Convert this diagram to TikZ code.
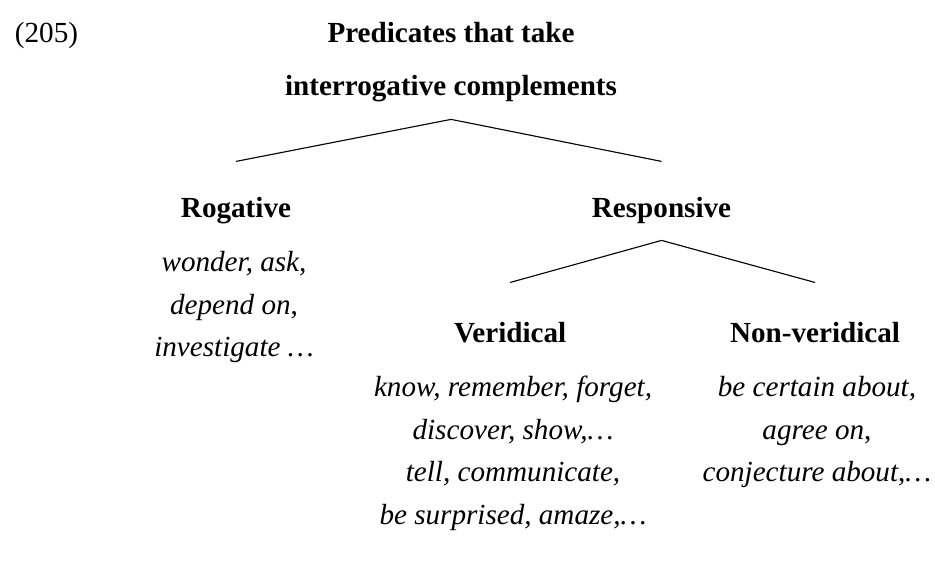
\documentclass[tikz,border=0pt]{standalone}
\usepackage{fontspec}
\setmainfont{Liberation Serif}
\begin{document}
\begin{tikzpicture}[
    cat/.style={font=\fontsize{10.4}{12}\selectfont\bfseries, anchor=base, inner ysep=0pt, text height=20pt, text depth=8.5pt},
    words/.style={font=\fontsize{10.4}{15.2}\selectfont\itshape, anchor=base, align=center}]
            \useasboundingbox (0,0) rectangle (11.731,-7.077);
            \node[anchor=base west, font=\fontsize{10.4}{12}\selectfont] (ex) at (0.063,-0.527) {(205)};
            \node[cat, text height=7pt] (roottop) at (5.659,-0.527) {Predicates that take};
            \node[cat, text height=7pt] (root) at (5.659,-1.192) {interrogative complements};
            \node[cat] (rog) at (2.961,-2.735) {Rogative};
            \node[cat, text depth=7.8pt] (resp) at (8.300,-2.735) {Responsive};
            \node[cat, text height=21.4pt] (ver) at (6.400,-4.303) {Veridical};
            \node[cat, text height=21.4pt] (nonver) at (10.226,-4.303) {Non-veridical};
            % word lists: base anchor sits under the last line
            \node[words] (roglist) at (2.936,-4.477) {wonder, ask,\\ depend on\textup{,}\\ investigate …};
            \node[words] (verlist) at (6.437,-6.580) {know, remember, forget,\\ discover, show,…\\ tell, communicate,\\ be surprised, amaze,…};
            \node[words] (nonverlist) at (10.250,-6.046) {be certain about,\\ agree on\textup{,}\\ conjecture about\textup{,}…};
            \draw (root.south) -- (rog.north); \draw (root.south) -- (resp.north);
            \draw (resp.south) -- (ver.north); \draw (resp.south) -- (nonver.north);
        \end{tikzpicture}
\end{document}
